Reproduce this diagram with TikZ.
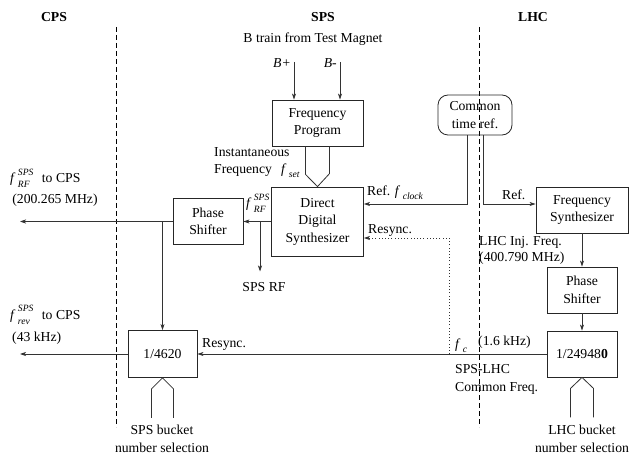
\documentclass[tikz,border=0pt]{standalone}
\usepackage{fontspec}
\setmainfont{Liberation Serif}
\usepackage{amsmath}
\usetikzlibrary{arrows.meta}
\newcommand\fsig[2]{\textit{f}$\,^{\rule[-3pt]{0pt}{3pt}\text{\itshape #2}}_{\rule{0pt}{7pt}\text{\itshape #1}}$}
\tikzset{
    blk/.style={draw=black!85,line width=0.8pt,inner sep=0pt,align=center},
    wire/.style={black!80,line width=0.8pt},
    arr/.style={wire,-{Stealth[length=6pt,width=4pt,inset=1.5pt]}},
    divider/.style={line width=0.7pt,dash pattern=on 5pt off 3pt},
    dotline/.style={dash pattern=on 0.8pt off 2.4pt},
    lbl/.style={inner sep=0pt,align=center}
}

\begin{document}
\begin{tikzpicture}[x=1pt,y=-1pt,font=\fontsize{13.7}{17.5}\selectfont]
            \useasboundingbox (0,0) rectangle (637,457);
            \foreach \x in {116,479} {
                \draw [divider] (\x,27) -- (\x,427);
            }
            \node [lbl,font=\fontsize{13.7}{17.5}\selectfont\bfseries] (cps) at (54,17) {CPS};
            \node [lbl,font=\fontsize{13.7}{17.5}\selectfont\bfseries] (sps) at (323,17) {SPS};
            \node [lbl,font=\fontsize{13.7}{17.5}\selectfont\bfseries] (lhc) at (533,17) {LHC};

            \node [blk,minimum width=91,minimum height=46] (prog) at (317.5,123) {Frequency\\Program};
            \node [blk,minimum width=92,minimum height=69] (dds) at (317.5,221.5) {Direct\\Digital\\Synthesizer};
            \node [blk,rounded corners=10pt,minimum width=74,minimum height=40] (tref) at (475,115) {Common\\time ref.};
            \node [blk,minimum width=92,minimum height=46] (synth) at (582,210) {Frequency\\Synthesizer};
            \node [blk,minimum width=70,minimum height=46] (lshift) at (582,290) {Phase\\Shifter};
            \node [blk,minimum width=70,minimum height=46] (ldiv) at (582,354) {1/24948\textbf{0}};
            \node [blk,minimum width=70,minimum height=46] (sshift) at (208,221.5) {Phase\\Shifter};
            \node [blk,minimum width=69,minimum height=47] (sdiv) at (162.5,354) {1/4620};

            \node [lbl] (btrain) at (313,39) {B train from Test Magnet};
            \coordinate (bp) at (294,62);
            \coordinate (bm) at (340,62);
            \node [lbl,anchor=east] (bpl) at (291,63) {\textit{B+}};
            \node [lbl,anchor=east] (bml) at (337,63) {\textit{B-}};
            \draw [arr] (bp) -- (bp |- prog.north);
            \draw [arr] (bm) -- (bm |- prog.north);

            \draw [wire] ([xshift=-12pt]prog.south) -- ++(0,28) -- (dds.north) -- ++(12,-13) -- ([xshift=12pt]prog.south);
            \draw [wire] ([xshift=-11pt]sdiv.south) ++(0,40) -- ++(0,-29) -- (sdiv.south) -- ++(11,11) -- ++(0,29);
            \draw [wire] ([xshift=-11.5pt]ldiv.south) ++(0,40) -- ++(0,-29) -- (ldiv.south) -- ++(11.5,11) -- ++(0,29);
            \node [lbl,anchor=west] (inst1) at (214,152) {Instantaneous};
            \node [lbl,anchor=west] (inst2) at (214,171) {Frequency\hspace{9pt}\fsig{set}{}};
            \node [lbl] (sbuck) at (162,439) {SPS bucket\\number selection};
            \node [lbl] (lbuck) at (582,439) {LHC bucket\\number selection};

            \draw [arr] ([xshift=-8pt]tref.south) |- ([yshift=17.5pt]dds.east);
            \draw [arr] ([xshift=8pt]tref.south) |- ([yshift=6pt]synth.west);
            \node [lbl,anchor=west] (refclk) at (367,193) {Ref. \fsig{clock}{}};
            \node [lbl,anchor=west] (refsyn) at (502,195) {Ref.};

            \coordinate (rftap) at (260,221.5);
            \coordinate (cpsrf) at (20,221.5);
            \coordinate (cpsrev) at (20,354);
            \draw [arr] (dds.west) -- (sshift.east);
            \draw [arr] (rftap) -- ++(0,50);
            \draw [arr] (sshift.west) -- (cpsrf);
            \draw [arr] (sshift.west -| sdiv.north) -- (sdiv.north);
            \draw [arr] (sdiv.west) -- (cpsrev);
            \draw [arr] (ldiv.west) -- (sdiv.east);
            \draw [arr] (synth.south) -- (lshift.north);
            \draw [arr] (lshift.south) -- (ldiv.north);
            \coordinate (ctap) at (449,354);
            \draw [arr,dotline] (ctap) |- ([yshift=-16.5pt]dds.east);

            \node [lbl] (frf) at (258,203) {\fsig{RF}{SPS}};
            \node [lbl] (sprf) at (264,287) {SPS RF};
            \node [lbl,anchor=west] (rsup) at (368,230) {Resync.};
            \node [lbl,anchor=west] (frfcps) at (10,178) {\fsig{RF}{SPS}\hspace{8pt}to CPS};
            \node [lbl] (mhzrf) at (55,200) {(200.265 MHz)};
            \node [lbl,anchor=west] (frevcps) at (10,315) {\fsig{rev}{SPS}\hspace{8pt}to CPS};
            \node [lbl,anchor=west] (khzrev) at (12,338) {(43 kHz)};
            \node [lbl,anchor=west] (rslow) at (202,344) {Resync.};
            \node [lbl,anchor=west] (fc) at (455,346) {\fsig{c}{}};
            \node [lbl,anchor=west] (fckhz) at (478,342) {(1.6 kHz)};
            \node [lbl,anchor=west,align=left] (common) at (455,379.5) {SPS-LHC\\Common Freq.};
            \node [lbl,anchor=west,align=left] (inj) at (479,250) {LHC Inj. Freq.\\[-1.5pt](400.790 MHz)};
        \end{tikzpicture}
\end{document}
